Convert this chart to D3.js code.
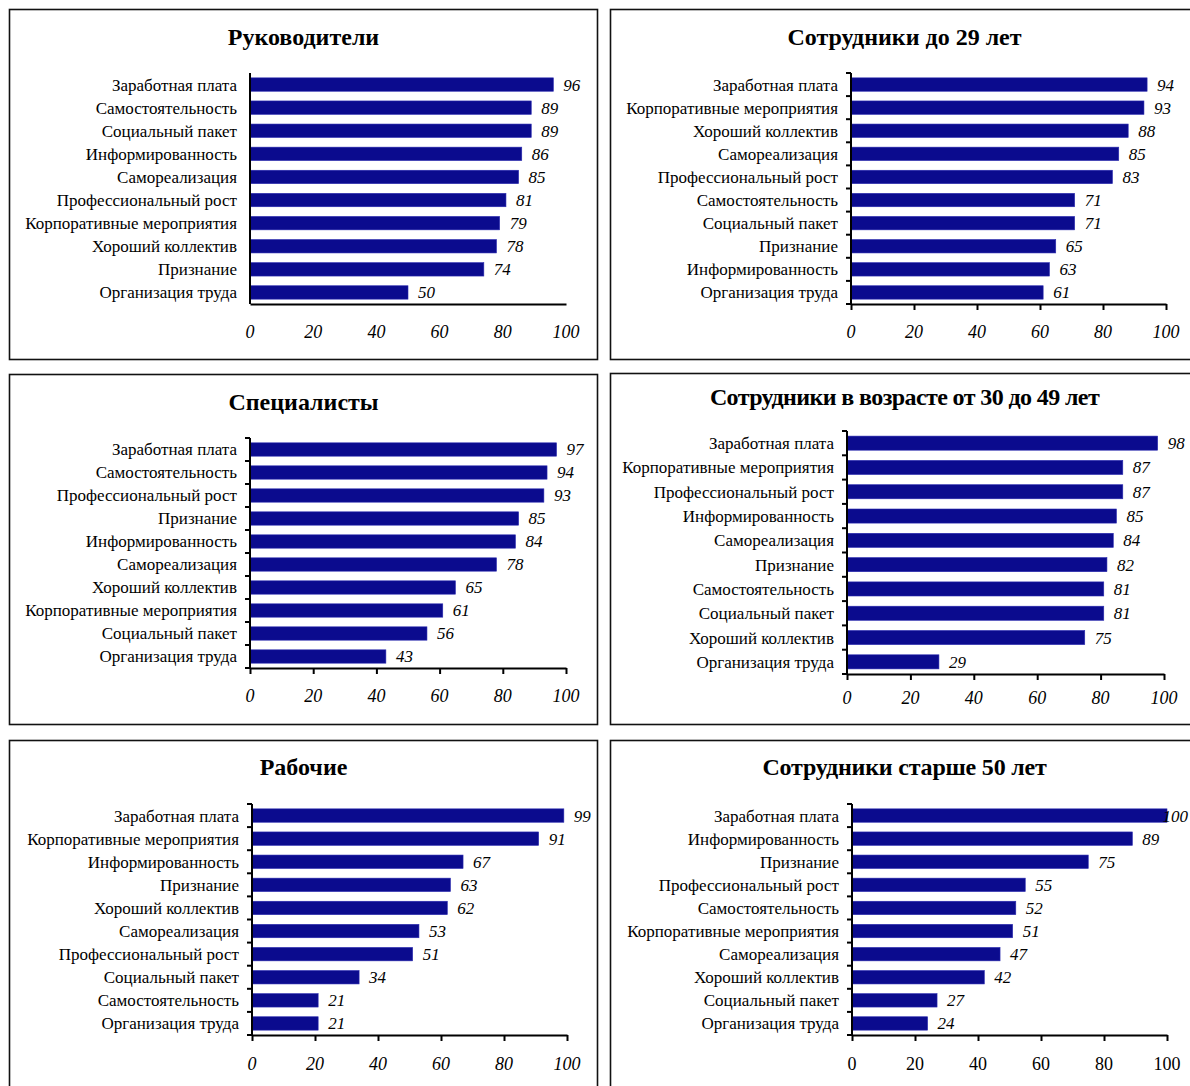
<!DOCTYPE html>
<html>
<head>
<meta charset="utf-8">
<script src="https://cdn.jsdelivr.net/npm/d3@7"></script>
<style>
  html, body { margin: 0; padding: 0; background: #fff; }
  svg { display: block; }
  text { font-family: "Liberation Serif", "Times New Roman", serif; fill: #000; }
</style>
</head>
<body>
<svg id="chart" width="1190" height="1086"></svg>
<script>
// Значимость факторов мотивации по группам сотрудников, %

const titles = [
  "Руководители",
  "Сотрудники до 29 лет",
  "Специалисты",
  "Сотрудники в возрасте от 30 до 49 лет",
  "Рабочие",
  "Сотрудники старше 50 лет"
];

const catsManagers = ["Заработная плата", "Самостоятельность", "Социальный пакет", "Информированность", "Самореализация", "Профессиональный рост", "Корпоративные мероприятия", "Хороший коллектив", "Признание", "Организация труда"];
const valsManagers = [96, 89, 89, 86, 85, 81, 79, 78, 74, 50];

const catsUnder29 = ["Заработная плата", "Корпоративные мероприятия", "Хороший коллектив", "Самореализация", "Профессиональный рост", "Самостоятельность", "Социальный пакет", "Признание", "Информированность", "Организация труда"];
const valsUnder29 = [94, 93, 88, 85, 83, 71, 71, 65, 63, 61];

const catsSpecialists = ["Заработная плата", "Самостоятельность", "Профессиональный рост", "Признание", "Информированность", "Самореализация", "Хороший коллектив", "Корпоративные мероприятия", "Социальный пакет", "Организация труда"];
const valsSpecialists = [97, 94, 93, 85, 84, 78, 65, 61, 56, 43];

const cats30to49 = ["Заработная плата", "Корпоративные мероприятия", "Профессиональный рост", "Информированность", "Самореализация", "Признание", "Самостоятельность", "Социальный пакет", "Хороший коллектив", "Организация труда"];
const vals30to49 = [98, 87, 87, 85, 84, 82, 81, 81, 75, 29];

const catsWorkers = ["Заработная плата", "Корпоративные мероприятия", "Информированность", "Признание", "Хороший коллектив", "Самореализация", "Профессиональный рост", "Социальный пакет", "Самостоятельность", "Организация труда"];
const valsWorkers = [99, 91, 67, 63, 62, 53, 51, 34, 21, 21];

const catsOver50 = ["Заработная плата", "Информированность", "Признание", "Профессиональный рост", "Самостоятельность", "Корпоративные мероприятия", "Самореализация", "Хороший коллектив", "Социальный пакет", "Организация труда"];
const valsOver50 = [100, 89, 75, 55, 52, 51, 47, 42, 27, 24];

const xTicks = [0, 20, 40, 60, 80, 100];

const seriesCats = [catsManagers, catsUnder29, catsSpecialists, cats30to49, catsWorkers, catsOver50];
const seriesVals = [valsManagers, valsUnder29, valsSpecialists, vals30to49, valsWorkers, valsOver50];

// Размещение панелей: рамка, область построения, положение заголовка и подписей
const layout = [
  { box: [9.5, 9.5, 588, 350],  titleY: 45,  titleSp: 0,    x0: 250, x1: 566,  y0: 73,  y1: 304,  tickY: 338,  yTicks: false, xTickMarks: false, italicTicks: true },
  { box: [610.5, 9.5, 600, 350], titleY: 45,  titleSp: 0,    x0: 851, x1: 1166, y0: 73,  y1: 304,  tickY: 338,  yTicks: true,  xTickMarks: true,  italicTicks: true },
  { box: [9.5, 374.5, 588, 350], titleY: 410, titleSp: 0,    x0: 250, x1: 566,  y0: 438, y1: 668,  tickY: 702,  yTicks: true,  xTickMarks: true,  italicTicks: true },
  { box: [610.5, 373.5, 600, 351], titleY: 405, titleSp: -0.6, x0: 847, x1: 1164, y0: 431, y1: 674, tickY: 704,  yTicks: true,  xTickMarks: true,  italicTicks: true },
  { box: [9.5, 740.5, 588, 360], titleY: 775, titleSp: 0,    x0: 252, x1: 567,  y0: 804, y1: 1035, tickY: 1070, yTicks: true,  xTickMarks: true,  italicTicks: true },
  { box: [610.5, 740.5, 600, 360], titleY: 775, titleSp: -0.2, x0: 852, x1: 1167, y0: 804, y1: 1035, tickY: 1070, yTicks: true,  xTickMarks: true,  italicTicks: false }
];

const barColor = "#0b0b8e";
const svg = d3.select("#chart");
const svgWidth = +svg.attr("width");

layout.forEach((L, i) => {
  const cats = seriesCats[i];
  const vals = seriesVals[i];
  const g = svg.append("g");

  // рамка панели
  g.append("rect")
    .attr("x", L.box[0]).attr("y", L.box[1])
    .attr("width", L.box[2]).attr("height", L.box[3])
    .attr("fill", "none").attr("stroke", "#111").attr("stroke-width", 1.6);

  // заголовок
  g.append("text")
    .attr("x", L.box[0] + 294)
    .attr("y", L.titleY)
    .attr("text-anchor", "middle")
    .attr("font-size", 24)
    .attr("font-weight", "bold")
    .attr("letter-spacing", L.titleSp)
    .text(titles[i]);

  const x = d3.scaleLinear().domain([0, 100]).range([L.x0, L.x1]);
  const y = d3.scaleBand().domain(cats).range([L.y0, L.y1])
    .paddingInner(0.42).paddingOuter(0.21);

  // столбцы
  g.selectAll("rect.bar").data(vals).join("rect")
    .attr("class", "bar")
    .attr("x", x(0))
    .attr("y", (d, j) => y(cats[j]))
    .attr("width", d => x(d) - x(0))
    .attr("height", y.bandwidth())
    .attr("fill", barColor)
    .attr("stroke", "#2a2ab0").attr("stroke-width", 0.6);

  // подписи значений (не выходят за правый край)
  g.selectAll("text.val").data(vals).join("text")
    .attr("class", "val")
    .attr("y", (d, j) => y(cats[j]) + y.bandwidth() / 2)
    .attr("dy", "0.35em")
    .attr("font-size", 17)
    .attr("font-style", "italic")
    .text(d => d)
    .attr("x", function (d) {
      const w = this.getComputedTextLength();
      return Math.min(x(d) + 10, svgWidth - 2 - w);
    });

  // категории
  g.selectAll("text.cat").data(cats).join("text")
    .attr("class", "cat")
    .attr("x", L.x0 - 13)
    .attr("y", d => y(d) + y.bandwidth() / 2)
    .attr("dy", "0.35em")
    .attr("text-anchor", "end")
    .attr("font-size", 17)
    .text(d => d);

  // ось Y
  const yAxis = d3.axisLeft(y).tickSize(0).tickFormat("");
  const ya = g.append("g").attr("transform", `translate(${L.x0},0)`).call(yAxis);
  ya.select(".domain").attr("stroke", "#000").attr("stroke-width", 2)
    .attr("d", `M0,${L.y0}V${L.y1}`);
  if (L.yTicks) {
    const step = y.step();
    const bounds = d3.range(cats.length + 1).map(k => L.y0 + k * step);
    g.selectAll("line.ytick").data(bounds).join("line")
      .attr("x1", L.x0 - 5).attr("x2", L.x0)
      .attr("y1", d => d).attr("y2", d => d)
      .attr("stroke", "#000").attr("stroke-width", 2);
  }

  // ось X
  const xAxis = d3.axisBottom(x).tickValues(xTicks)
    .tickSize(L.xTickMarks ? 6 : 0).tickSizeOuter(0).tickPadding(0).tickFormat("");
  const xa = g.append("g").attr("transform", `translate(0,${L.y1})`).call(xAxis);
  xa.select(".domain").attr("stroke", "#000").attr("stroke-width", 2);
  xa.selectAll(".tick line").attr("stroke", "#000").attr("stroke-width", 2);

  g.selectAll("text.xt").data(xTicks).join("text")
    .attr("class", "xt")
    .attr("x", d => x(d))
    .attr("y", L.tickY)
    .attr("text-anchor", "middle")
    .attr("font-size", 18)
    .attr("font-style", L.italicTicks ? "italic" : "normal")
    .text(d => d);
});
</script>
</body>
</html>
